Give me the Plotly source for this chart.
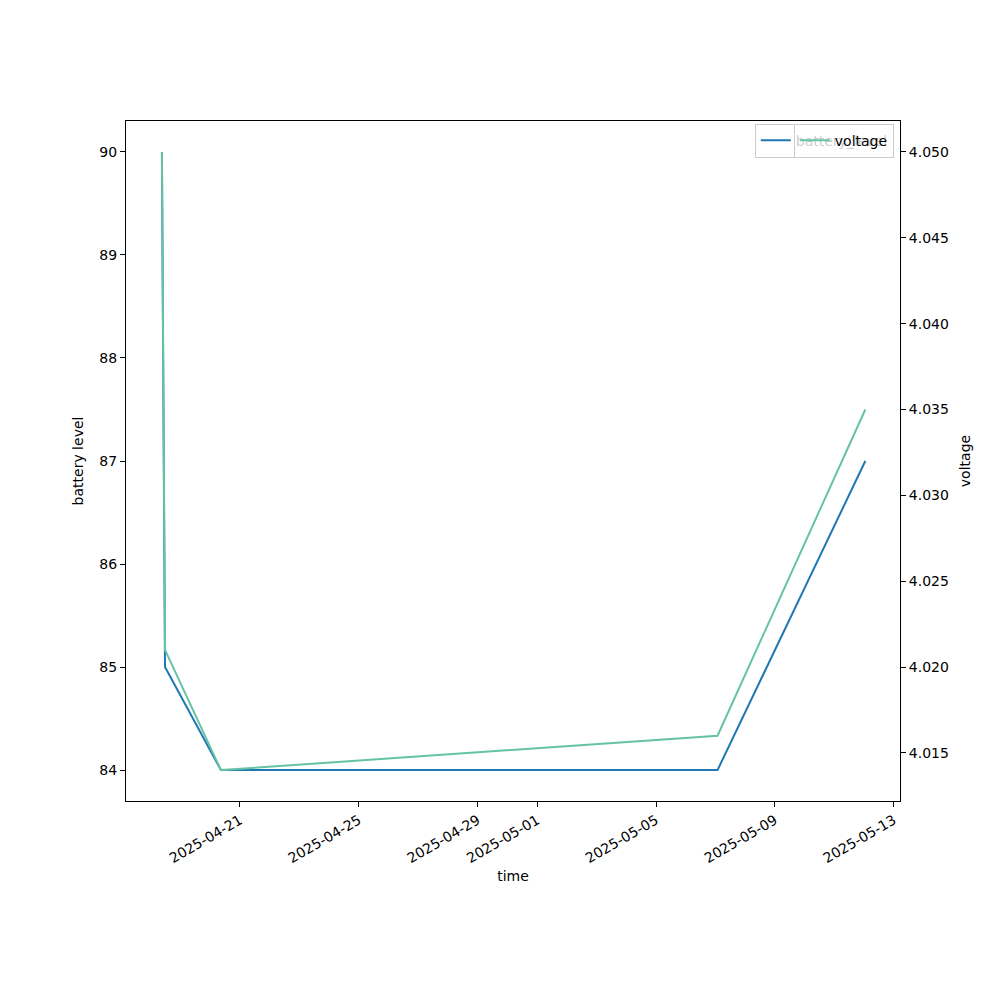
import plotly.graph_objects as go

# data
times = ["2025-04-18 09:00", "2025-04-18 11:30", "2025-04-20 08:40",
         "2025-05-07 01:40", "2025-05-12 01:00"]
battery_level = [90, 85, 84, 84, 87]
voltage = [4.050, 4.021, 4.014, 4.016, 4.035]

x_ticks = ["2025-04-21", "2025-04-25", "2025-04-29", "2025-05-01",
           "2025-05-05", "2025-05-09", "2025-05-13"]
y_ticks = [84, 85, 86, 87, 88, 89, 90]
y2_ticks = [4.015, 4.020, 4.025, 4.030, 4.035, 4.040, 4.045, 4.050]

FONT = "DejaVu Sans"

fig = go.Figure()
fig.add_trace(go.Scatter(x=times, y=battery_level, mode="lines", name="battery_level",
                         line=dict(color="#1f77b4", width=2), legend="legend"))
fig.add_trace(go.Scatter(x=times, y=voltage, mode="lines", name="voltage", yaxis="y2",
                         line=dict(color="#66c2a5", width=2), legend="legend2"))

axis_common = dict(showgrid=False, zeroline=False, showline=True, linecolor="black",
                   linewidth=1, ticks="outside", ticklen=5, tickcolor="black",
                   tickfont=dict(family=FONT, size=14, color="black"))

fig.update_layout(
    width=1000, height=1000,
    paper_bgcolor="white", plot_bgcolor="white",
    margin=dict(l=118, r=108, t=113, b=207),
    font=dict(family=FONT, size=14, color="black"),
    showlegend=True,
    xaxis=dict(**axis_common, mirror=True, tickvals=x_ticks, ticktext=x_ticks,
               tickangle=-30, range=["2025-04-17 04:00", "2025-05-13 05:00"],
               title=dict(text="time", font=dict(size=14), standoff=6)),
    yaxis=dict(**axis_common, tickvals=y_ticks, range=[83.7, 90.3],
               title=dict(text="battery level", font=dict(size=14), standoff=12)),
    yaxis2=dict(**axis_common, overlaying="y", side="right", tickvals=y2_ticks,
                tickformat=".3f", range=[4.0122, 4.0518],
                title=dict(text="voltage", font=dict(size=14), standoff=12)),
    # two stacked legends, the second one sits over the first as in the reference
    legend=dict(x=0.992, y=0.996, xanchor="right", yanchor="top",
                bgcolor="white", bordercolor="#cccccc", borderwidth=1,
                font=dict(size=14), itemwidth=30),
    legend2=dict(x=0.992, y=0.996, xanchor="right", yanchor="top",
                 bgcolor="rgba(255,255,255,0.8)", bordercolor="#cccccc", borderwidth=1,
                 font=dict(size=14), itemwidth=30),
)

fig.write_html("out.html")
